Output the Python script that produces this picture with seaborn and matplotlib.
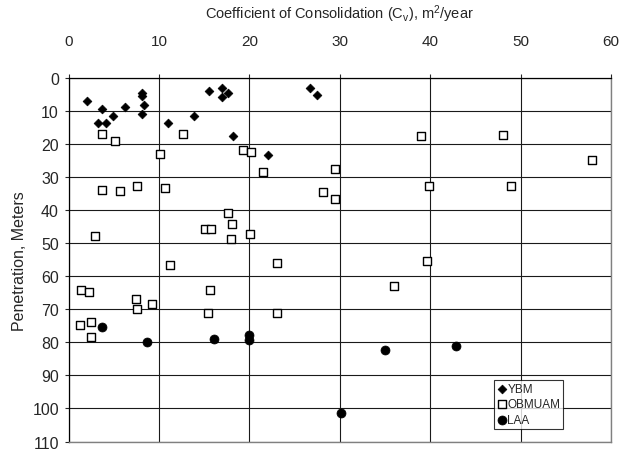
import seaborn as sns
import matplotlib.pyplot as plt

#---------------------

# YBM (filled diamonds)
ybm_cv = [2.0, 3.7, 3.2, 4.1, 4.85, 6.2, 8.1, 8.1, 8.35, 8.1, 11.0, 13.9,
          15.5, 17.0, 17.0, 17.6, 26.7, 27.5, 18.2, 22.0]
ybm_depth = [6.8, 9.5, 13.5, 13.5, 11.5, 8.6, 4.5, 5.5, 8.1, 11.0, 13.5, 11.5,
             4.0, 3.0, 5.8, 4.6, 3.0, 5.1, 17.4, 23.3]

# OBMUAM (open squares)
obm_cv = [3.7, 5.1, 12.6, 10.1, 3.7, 5.7, 7.6, 10.7, 19.3, 20.2, 21.5, 29.5,
          28.1, 29.5, 17.6, 18.1, 15.1, 15.8, 18.0, 20.1, 23.1, 15.6, 15.4, 23.1,
          2.9, 11.2, 1.35, 2.3, 7.4, 7.6, 9.2, 1.3, 2.5, 2.5, 39.0, 48.0,
          57.9, 39.9, 48.9, 39.7, 36.0]
obm_depth = [17.0, 19.0, 17.0, 23.0, 34.0, 34.2, 32.7, 33.2, 21.8, 22.3, 28.5, 27.4,
             34.4, 36.5, 40.8, 44.2, 45.6, 45.6, 48.7, 47.2, 56.1, 64.1, 71.0, 71.0,
             47.7, 56.5, 64.0, 64.6, 67.0, 69.9, 68.4, 74.6, 73.9, 78.4, 17.6, 17.1,
             24.8, 32.8, 32.8, 55.5, 63.0]

# LAA (filled circles)
laa_cv = [3.7, 8.7, 16.1, 20.0, 20.0, 30.1, 35.0, 42.9]
laa_depth = [75.3, 80.0, 78.9, 77.8, 79.2, 101.3, 82.2, 81.0]

x_ticks = [0, 10, 20, 30, 40, 50, 60]
y_ticks = [0, 10, 20, 30, 40, 50, 60, 70, 80, 90, 100, 110]

#---------------------

sns.set_style('white')
plt.rcParams['font.family'] = ['Liberation Sans', 'DejaVu Sans']
plt.rcParams['mathtext.fontset'] = 'custom'
plt.rcParams['mathtext.rm'] = 'Liberation Sans'

fig = plt.figure(figsize=(6.19, 4.52), dpi=100)
ax = fig.add_axes([0.111, 0.021, 0.876, 0.804])

sns.scatterplot(x=ybm_cv, y=ybm_depth, marker='D', s=20, color='black',
                edgecolor='black', linewidth=0.5, label='YBM', ax=ax, zorder=3)
sns.scatterplot(x=obm_cv, y=obm_depth, marker='s', s=34, color='white',
                edgecolor='black', linewidth=1.0, label='OBMUAM', ax=ax, zorder=3)
sns.scatterplot(x=laa_cv, y=laa_depth, marker='o', s=42, color='black',
                edgecolor='black', linewidth=0.5, label='LAA', ax=ax, zorder=3)

ax.set_xlim(0, 60)
ax.set_ylim(110, 0)
ax.set_xticks(x_ticks)
ax.set_yticks(y_ticks)
ax.grid(True, color='#1a1a1a', linewidth=0.8)
ax.set_axisbelow(True)

ax.xaxis.tick_top()
ax.xaxis.set_label_position('top')
ax.tick_params(axis='x', top=True, bottom=False, direction='out', length=3,
               width=0.8, pad=19, labelsize=11)
ax.tick_params(axis='y', left=True, direction='out', length=3, width=0.8,
               pad=4, labelsize=11.5)
ax.set_xlabel(r'Coefficient of Consolidation (C$\mathregular{_v}$), m$\mathregular{^2}$/year',
              fontsize=10.5, labelpad=11)
ax.set_ylabel('Penetration, Meters', fontsize=11.5, labelpad=4)

for side in ['top', 'left']:
    ax.spines[side].set_color('black')
    ax.spines[side].set_linewidth(0.9)
for side in ['right', 'bottom']:
    ax.spines[side].set_color('#808080')
    ax.spines[side].set_linewidth(1.0)

leg = ax.legend(loc='lower left', bbox_to_anchor=(0.784, 0.035), frameon=True,
                fancybox=False, edgecolor='black', fontsize=8.5, handlelength=0.8,
                handletextpad=0.1, borderpad=0.25, labelspacing=0.3,
                borderaxespad=0)
leg.get_frame().set_linewidth(0.8)

fig.savefig('out.png', dpi=100)
